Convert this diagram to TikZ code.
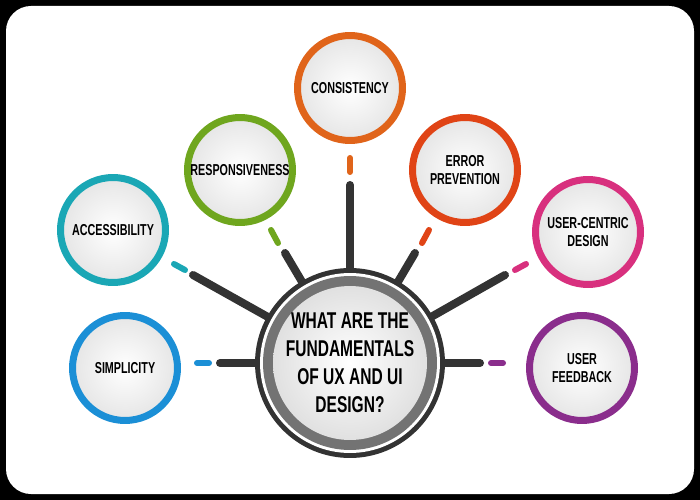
\documentclass[tikz,border=0pt]{standalone}
\usepackage{fontspec}
\setmainfont{Liberation Sans}[FakeStretch=0.68]
\usetikzlibrary{positioning}
\definecolor{hub}{HTML}{333333}
\definecolor{cblue}{HTML}{1B8FD6}
\definecolor{cteal}{HTML}{1AA7B5}
\definecolor{cgreen}{HTML}{6FA61E}
\definecolor{corange}{HTML}{E0641A}
\definecolor{cred}{HTML}{E04416}
\definecolor{cpink}{HTML}{D8307E}
\definecolor{cpurple}{HTML}{8A2D8C}
\begin{document}
\begin{tikzpicture}[x=0.02cm, y=-0.02cm,
    topic/.style={circle, minimum size=2.1cm, line width=0.14cm, draw=#1, inner sep=0pt,
        inner color=white, outer color=black!10, align=center,
        font=\bfseries\fontsize{9}{10.5}\selectfont},
    branch/.style={line width=0.16cm, line cap=round, draw=hub},
    tick/.style={line width=0.12cm, line cap=round, draw=#1},
    ]
    % card
    \fill[black] (0,0) rectangle (700,500);
    \fill[white, rounded corners=0.5cm] (6,6) rectangle (694,494);
    \useasboundingbox (0,0) rectangle (700,500);

    % hub
    \node[circle, fill=hub, minimum size=3.8cm, inner sep=0pt] (Hub) at (350,363) {};
    \foreach \tx/\ty [count=\i] in {220/363, 193/275, 285/253, 350/185, 415/253, 505/275, 480/363}
        \coordinate (T\i) at (\tx,\ty);
    \foreach \i in {1,...,7}
        \draw[branch] (Hub.center) -- (T\i);
    \fill[white] (Hub.center) circle (1.8cm);
    \fill[black!55] (Hub.center) circle (1.74cm);
    \shade[inner color=white, outer color=black!12] (Hub.center) circle (1.54cm);
    \node[align=center, inner sep=0pt,
        font=\bfseries\fontsize{13}{16}\selectfont] (Frage) at (Hub.center)
        {WHAT ARE THE\\FUNDAMENTALS\\OF UX AND UI\\DESIGN?};

    % Themen
    \node[topic=cblue] (Simplicity) at (125,368) {SIMPLICITY};
    \node[topic=cteal] (Accessibility) at (113,230) {ACCESSIBILITY};
    \node[topic=cgreen] (Responsiveness) at (240,170) {RESPONSIVENESS};
    \node[topic=corange] (Consistency) at (350,88) {CONSISTENCY};
    \node[topic=cred] (Error) at (465,170) {ERROR\\PREVENTION};
    \node[topic=cpink] (UserCentric) at (588,232) {USER-CENTRIC\\DESIGN};
    \node[topic=cpurple] (Feedback) at (582,368) {USER\\FEEDBACK};

    % Striche
    \draw[tick=cblue] (197,363) -- (209,363);
    \draw[tick=cteal] (174,264) -- (185,270);
    \draw[tick=cgreen] (271,230) -- (278,243);
    \draw[tick=corange] (350,158) -- (350,172);
    \draw[tick=cred] (429,230) -- (422,243);
    \draw[tick=cpink] (526,264) -- (515,270);
    \draw[tick=cpurple] (491,363) -- (503,363);
\end{tikzpicture}
\end{document}
